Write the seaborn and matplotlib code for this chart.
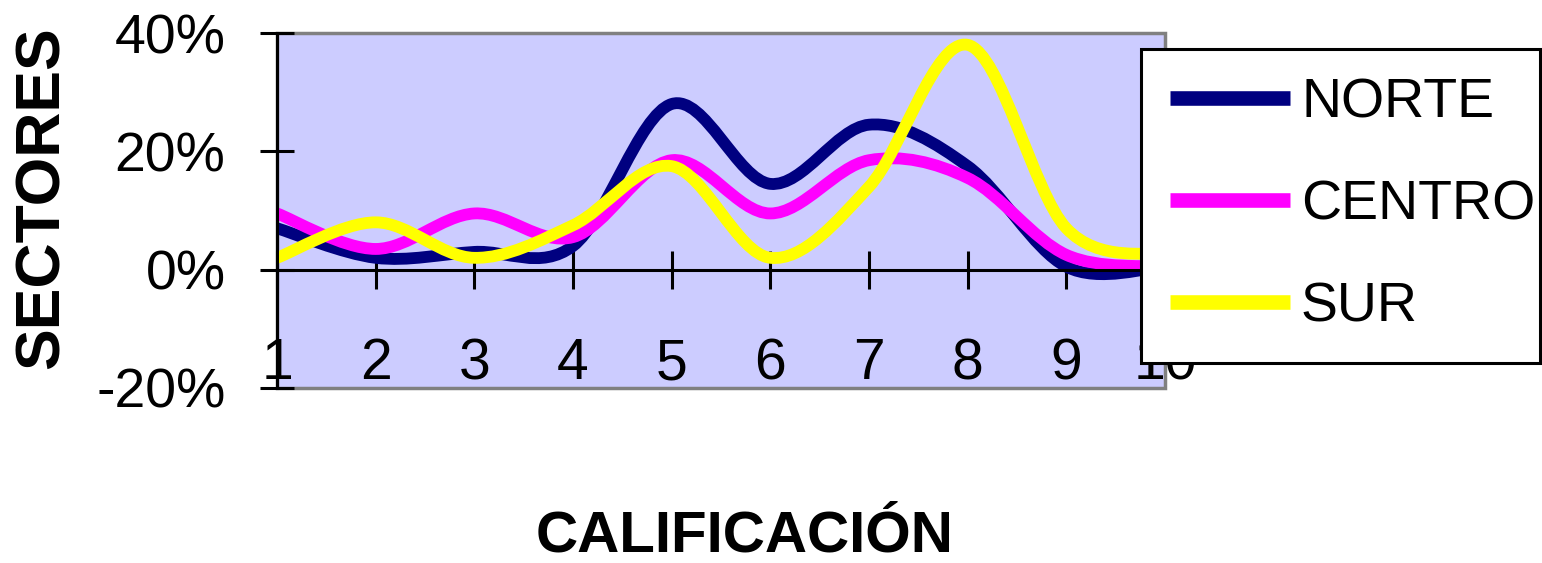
import numpy as np
import pandas as pd
import matplotlib
matplotlib.use("Agg")
import matplotlib.pyplot as plt
from matplotlib.path import Path
from matplotlib.patches import PathPatch, Rectangle
from matplotlib.lines import Line2D
import seaborn as sns

# valores (porcentaje por calificacion)
calificacion = [1, 2, 3, 4, 5, 6, 7, 8, 9, 10]
norte = [7, 2, 3, 4, 28, 14.5, 24.5, 17.5, 0.5, 0.5]
centro = [9.5, 3.5, 9.5, 5.5, 18.5, 9.5, 18.5, 15.5, 2.5, 0.5]
sur = [2, 8, 2, 7.5, 17.5, 2, 14, 38, 7, 2.5]
sectores = ["NORTE", "CENTRO", "SUR"]
colores = ["#000080", "#FF00FF", "#FFFF00"]
y_ticks = [-20, 0, 20, 40]

sns.set_style("white")
plt.rcParams['font.family'] = ['Liberation Sans', 'DejaVu Sans']
plt.rcParams['text.color'] = 'black'
plt.rcParams['xtick.color'] = 'black'
plt.rcParams['ytick.color'] = 'black'

df = pd.DataFrame({
    "CALIFICACION": calificacion * 3,
    "valor": norte + centro + sur,
    "sector": [s for s in sectores for _ in calificacion],
})

W, H = 1542, 563
fig = plt.figure(figsize=(W / 100, H / 100), dpi=100)
ax = fig.add_axes([277 / W, 1 - 388 / H, (1165 - 277) / W, (388 - 33) / H])
ax.set_facecolor("#CCCCFF")

sns.lineplot(data=df, x="CALIFICACION", y="valor", hue="sector",
             hue_order=sectores, palette=colores, legend=False, ax=ax)


# curva suavizada tipo Excel (bezier catmull-rom) sobre los puntos de seaborn
def bezier_path(xs, ys):
    pts = np.column_stack([xs, ys]).astype(float)
    ext = np.vstack([pts[0], pts, pts[-1]])
    verts = [pts[0]]
    codes = [Path.MOVETO]
    for i in range(len(pts) - 1):
        p0, p1, p2, p3 = ext[i], ext[i + 1], ext[i + 2], ext[i + 3]
        verts += [p1 + (p2 - p0) / 6, p2 - (p3 - p1) / 6, p2]
        codes += [Path.CURVE4] * 3
    return Path(verts, codes)


for line, color in zip(list(ax.lines), colores):
    xs, ys = line.get_data()
    line.set_visible(False)
    ax.add_patch(PathPatch(bezier_path(xs, ys), fill=False, edgecolor=color,
                           lw=8.5, capstyle='butt', joinstyle='round', zorder=2))

ax.set_xlim(1, 10)
ax.set_ylim(-20, 40)
ax.set_xticks(calificacion)
ax.set_yticks(y_ticks)
ax.set_yticklabels([f"{v}%" for v in y_ticks])
ax.set_xlabel("")
ax.set_ylabel("")

ax.spines['bottom'].set_position(('data', 0))
for s in ['top', 'right']:
    ax.spines[s].set_visible(False)
for s in ['left', 'bottom']:
    ax.spines[s].set_color('black')
    ax.spines[s].set_linewidth(2.2)
ax.add_patch(Rectangle((0, 0), 1, 1, transform=ax.transAxes, fill=False,
                       edgecolor='#808080', lw=2.5, clip_on=False, zorder=0.5))

ax.tick_params(axis='y', left=True, direction='inout', length=24, width=2.2,
               pad=25, labelsize=40, colors='black')
ax.tick_params(axis='x', bottom=True, direction='inout', length=27, width=2.2,
               pad=35, labelsize=41, colors='black')

fig.text(42 / W, 1 - 198 / H, "SECTORES", rotation=90, ha='center', va='center',
         fontsize=45, fontweight='bold', color='black')
fig.text(745 / W, 1 - 537 / H, "CALIFICACIÓN", ha='center', va='center',
         fontsize=42, fontweight='bold', color='black')

handles = [Line2D([], [], color=c, lw=10.5, solid_capstyle='butt') for c in colores]
leg = fig.legend(handles, sectores, loc='upper left',
                 bbox_to_anchor=(1141 / W, 1 - 356 / H, 399 / W, 307 / H),
                 mode='expand', fontsize=40, frameon=True, fancybox=False,
                 edgecolor='black', framealpha=1, handlelength=2.16,
                 handletextpad=0.2, labelspacing=0.9, borderpad=0.52,
                 borderaxespad=0, labelcolor='black')
leg.get_frame().set_linewidth(2.2)

fig.savefig("out.png", dpi=100)
